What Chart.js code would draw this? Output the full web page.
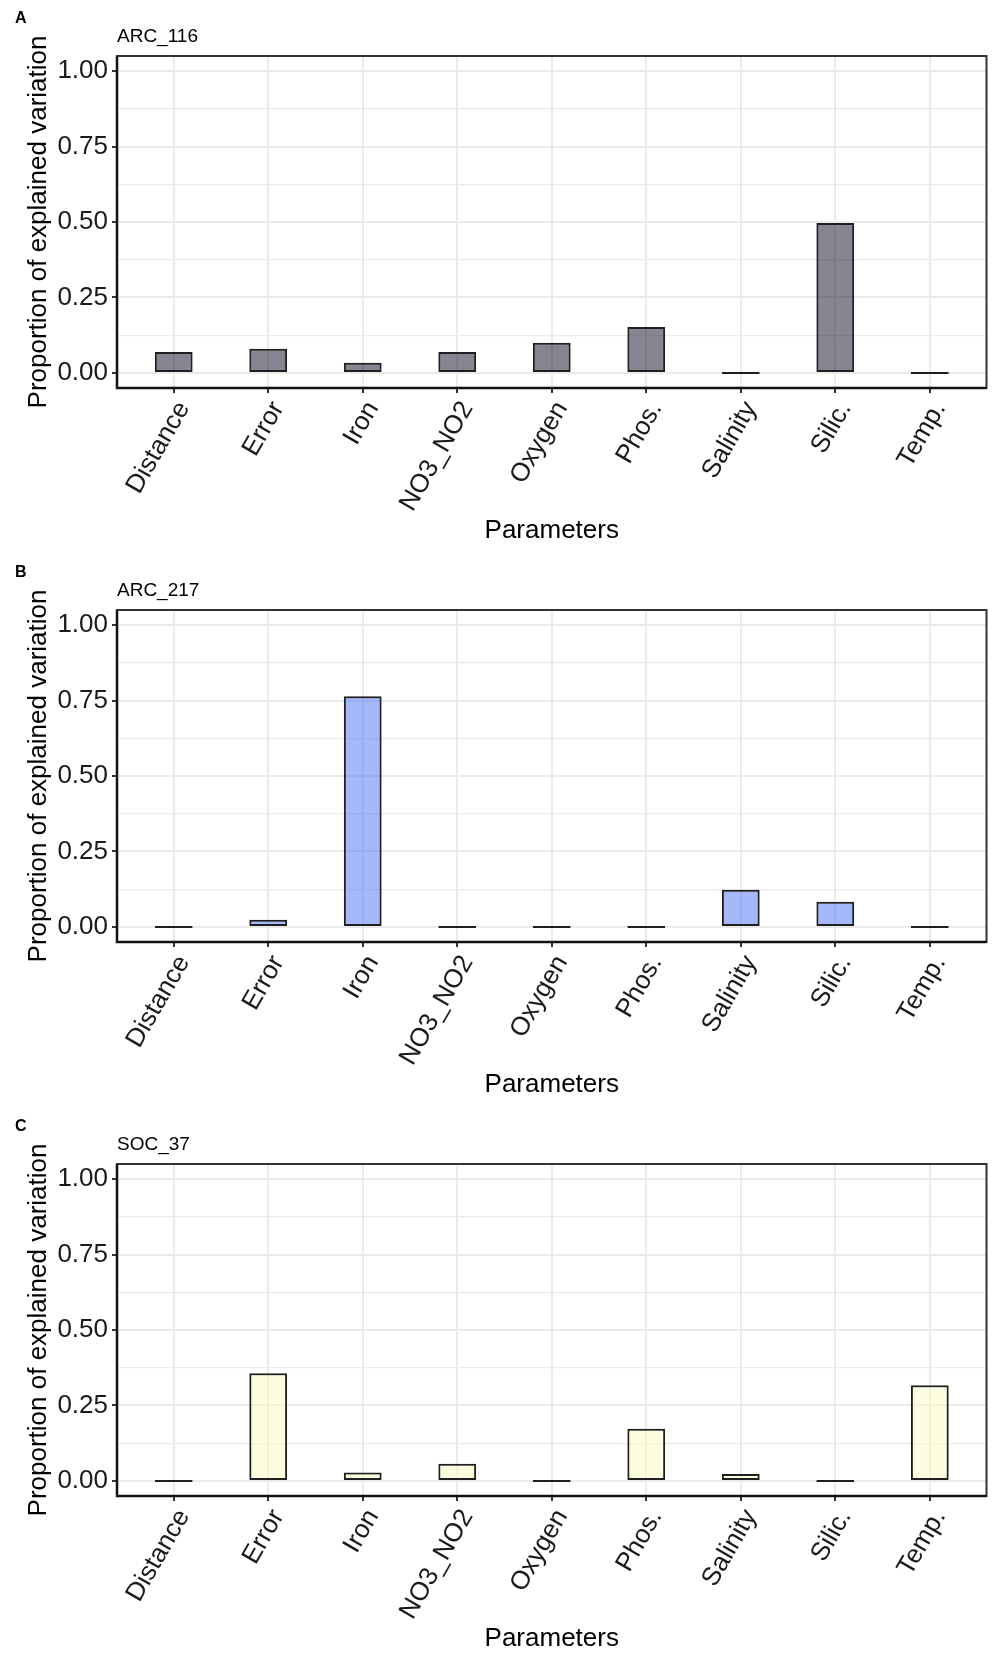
<!DOCTYPE html>
<html>
<head>
<meta charset="utf-8">
<title>Proportion of explained variation by parameter</title>
<script src="https://cdn.jsdelivr.net/npm/chart.js@4.4.1/dist/chart.umd.min.js"></script>
<style>
  html, body { margin: 0; padding: 0; background: #fff; }
  body { width: 995px; height: 1654px; position: relative; overflow: hidden;
         font-family: "Liberation Sans", Arial, sans-serif; color: #000; }
  .panel { position: absolute; left: 0; width: 995px; height: 554px; }
  .panel canvas { position: absolute; left: 0; top: 0; }
  .tag { position: absolute; left: 15px; top: 10px; font-size: 16px; line-height: 16px; font-weight: bold; }
  .name { position: absolute; left: 117px; top: 26px; font-size: 19px; line-height: 19px; }
</style>
</head>
<body>
<script>
// Parameters tested against each community
const categories = ['Distance', 'Error', 'Iron', 'NO3_NO2', 'Oxygen', 'Phos.', 'Salinity', 'Silic.', 'Temp.'];

// Proportion of explained variation per parameter
const arc116 = [0.069, 0.080, 0.034, 0.069, 0.100, 0.152, 0, 0.497, 0];
const arc217 = [0, 0.024, 0.764, 0, 0, 0, 0.123, 0.083, 0];
const soc37  = [0, 0.357, 0.028, 0.057, 0, 0.173, 0.023, 0, 0.317];

// Axis ticks
const yMajorTicks = [0, 0.25, 0.5, 0.75, 1];
const yMinorTicks = [0.125, 0.375, 0.625, 0.875];

const panelLetters = ['A', 'B', 'C'];
const panelNames = ['ARC_116', 'ARC_217', 'SOC_37'];
const panelValues = [arc116, arc217, soc37];
const panelFills = ['rgba(13, 11, 37, 0.5)', 'rgba(73, 113, 245, 0.5)', 'rgba(251, 251, 193, 0.5)'];
const panelTops = [0, 554, 1108];

const FONT = '"Liberation Sans", Arial, sans-serif';
Chart.defaults.font.family = FONT;
Chart.defaults.color = '#1a1a1a';

const isMajor = v => yMajorTicks.some(t => Math.abs(t - v) < 1e-9);

// Black frame around the plotting panel
const panelFrame = {
  id: 'panelFrame',
  afterDraw(chart) {
    const { ctx, chartArea: a } = chart;
    ctx.save();
    ctx.strokeStyle = '#333';
    ctx.lineWidth = 2;
    ctx.strokeRect(a.left, a.top, a.right - a.left, a.bottom - a.top);
    ctx.strokeStyle = '#111';
    ctx.lineWidth = 2.5;
    ctx.beginPath();
    ctx.moveTo(a.left, a.top);
    ctx.lineTo(a.left, a.bottom);
    ctx.lineTo(a.right, a.bottom);
    ctx.stroke();
    ctx.restore();
  }
};

function makePanel(idx) {
  const wrap = document.createElement('div');
  wrap.className = 'panel';
  wrap.style.top = panelTops[idx] + 'px';

  const canvas = document.createElement('canvas');
  canvas.width = 995;
  canvas.height = 554;
  wrap.appendChild(canvas);

  const tag = document.createElement('div');
  tag.className = 'tag';
  tag.textContent = panelLetters[idx];
  wrap.appendChild(tag);

  const name = document.createElement('div');
  name.className = 'name';
  name.textContent = panelNames[idx];
  wrap.appendChild(name);

  document.body.appendChild(wrap);

  const values = panelValues[idx];
  const points = categories.map((c, i) => ({ x: i + 1, y: values[i] }));

  new Chart(canvas, {
    type: 'bar',
    data: {
      datasets: [{
        data: points,
        backgroundColor: panelFills[idx],
        borderColor: '#1f1f1f',
        borderWidth: 2,
        borderSkipped: false,
        minBarLength: 2,
        categoryPercentage: 1,
        barPercentage: 0.4
      }]
    },
    options: {
      responsive: false,
      animation: false,
      devicePixelRatio: 1,
      layout: { padding: { top: 56, left: 19, right: 8.5, bottom: 4 } },
      plugins: { legend: { display: false }, tooltip: { enabled: false }, title: { display: false } },
      scales: {
        x: {
          type: 'linear',
          min: 0.4,
          max: 9.6,
          bounds: 'data',
          offset: false,
          afterBuildTicks: s => { s.ticks = categories.map((c, i) => ({ value: i + 1 })); },
          afterFit: s => { s.height = 162; },
          border: { display: false },
          grid: { offset: false, color: '#EBEBEB', lineWidth: 2, drawTicks: true,
                  tickLength: 5, tickColor: '#333', tickWidth: 2 },
          ticks: {
            autoSkip: false,
            maxRotation: 60,
            minRotation: 60,
            padding: 3,
            labelOffset: 10,
            color: '#1a1a1a',
            font: { size: 26, family: FONT },
            callback: v => categories[Math.round(v) - 1] ?? ''
          },
          title: { display: true, text: 'Parameters', color: '#000',
                   font: { size: 26, family: FONT }, padding: { top: 4, bottom: 4 } }
        },
        y: {
          type: 'linear',
          min: -0.05,
          max: 1.05,
          bounds: 'data',
          afterBuildTicks: s => {
            s.ticks = yMajorTicks.concat(yMinorTicks).sort((a, b) => a - b).map(v => ({ value: v }));
          },
          afterFit: s => { s.width = 98; },
          border: { display: false },
          grid: {
            color: '#EBEBEB',
            lineWidth: c => (c.tick && isMajor(c.tick.value)) ? 2 : 1.2,
            tickLength: 5,
            tickWidth: 2,
            tickColor: c => (c.tick && isMajor(c.tick.value)) ? '#333' : 'rgba(0,0,0,0)'
          },
          ticks: {
            padding: 4,
            color: '#1a1a1a',
            font: { size: 26, family: FONT },
            callback: v => isMajor(v) ? v.toFixed(2) : ''
          },
          title: { display: true, text: 'Proportion of explained variation', color: '#000',
                   font: { size: 26, family: FONT }, padding: { top: 4, bottom: 4 } }
        }
      }
    },
    plugins: [panelFrame]
  });
}

panelLetters.forEach((_, i) => makePanel(i));
</script>
</body>
</html>
